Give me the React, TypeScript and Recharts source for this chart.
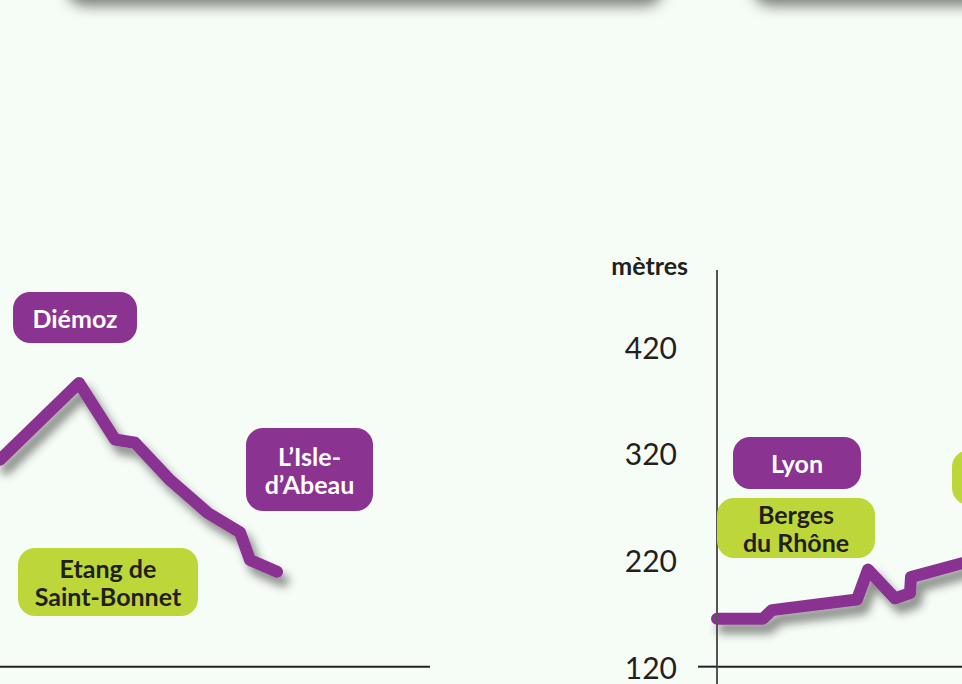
import React from 'react';
import { LineChart, Line, XAxis, YAxis, ReferenceLine } from 'recharts';

// Left profile (distance in arbitrary km units, altitude in metres)
const leftDistance = [0, 7.9, 11.5, 13.5, 17, 20.8, 24, 25, 27.7];
const leftAltitude = [314, 386, 333, 330, 295, 264, 246, 220, 209];

// Right profile
const rightDistance = [0, 4.6, 5.5, 14, 15.1, 17.8, 19.3, 19.4, 24.5];
const rightAltitude = [165, 165, 173, 183, 211, 184, 189, 204, 217];

const yTicks = [120, 220, 320, 420];
const yDomain = [100, 492];
const baseValue = 120;
const axisUnit = 'mètres';

const leftData = leftDistance.map((d, i) => ({ d, alt: leftAltitude[i] }));
const rightData = rightDistance.map((d, i) => ({ d, alt: rightAltitude[i] }));

const BG = '#f6fdf6';
const PURPLE = '#8a3391';
const GREEN = '#bdd63a';
const DARK = '#231f20';
const FONT = 'Lato, "Open Sans", sans-serif';

const ShadowDefs = ({ id }: { id: string }) => (
  <defs>
    <filter id={id} x="-20%" y="-20%" width="150%" height="170%">
      <feDropShadow dx="6" dy="9" stdDeviation="5" floodColor="#000" floodOpacity="0.45" />
    </filter>
  </defs>
);

const YTick = (props: any) => {
  const { x, y, payload } = props;
  return (
    <g>
      {payload.value === baseValue && (
        <line x1={x - 19} x2={x} y1={y} y2={y} stroke="#222" strokeWidth={2} />
      )}
      <text
        x={x - 40}
        y={y}
        textAnchor="end"
        dominantBaseline="central"
        fill={DARK}
        fontFamily={FONT}
        fontSize={30}
      >
        {payload.value}
      </text>
    </g>
  );
};

const boxBase: React.CSSProperties = {
  position: 'absolute',
  borderRadius: 17,
  display: 'flex',
  alignItems: 'center',
  justifyContent: 'center',
  textAlign: 'center',
  fontFamily: FONT,
  fontWeight: 700,
  fontSize: 25,
  lineHeight: '28px',
  boxSizing: 'border-box',
};

const Box = ({ left, top, width, height, green, children }: any) => (
  <div
    style={{
      ...boxBase,
      left,
      top,
      width,
      height,
      background: green ? GREEN : PURPLE,
      color: green ? DARK : '#ffffff',
    }}
  >
    {children}
  </div>
);

export default function App() {
  return (
    <div
      style={{
        position: 'fixed',
        left: 0,
        top: 0,
        width: 962,
        height: 684,
        overflow: 'hidden',
        background: BG,
      }}
    >
      {/* top decorative panels (cropped) */}
      <div
        style={{
          position: 'absolute',
          left: 64,
          top: -120,
          width: 598,
          height: 120,
          background: BG,
          borderRadius: 20,
          boxShadow: '2px 6px 14px rgba(0,0,0,0.5)',
        }}
      />
      <div
        style={{
          position: 'absolute',
          left: 750,
          top: -120,
          width: 400,
          height: 120,
          background: BG,
          borderRadius: 20,
          boxShadow: '2px 6px 14px rgba(0,0,0,0.5)',
        }}
      />

      {/* left chart */}
      <div style={{ position: 'absolute', left: 0, top: 0 }}>
        <LineChart
          width={430}
          height={700}
          data={leftData}
          margin={{ top: 270, right: 0, left: 0, bottom: 12 }}
        >
          <ShadowDefs id="shL" />
          <XAxis dataKey="d" type="number" domain={[0, 43]} hide />
          <YAxis type="number" domain={yDomain} hide allowDataOverflow />
          <ReferenceLine y={baseValue} stroke="#222" strokeWidth={2} />
          <Line
            dataKey="alt"
            stroke={PURPLE}
            strokeWidth={12}
            strokeLinecap="round"
            strokeLinejoin="round"
            dot={false}
            activeDot={false}
            isAnimationActive={false}
            filter="url(#shL)"
          />
        </LineChart>
      </div>

      {/* right chart */}
      <div style={{ position: 'absolute', left: 580, top: 0 }}>
        <LineChart
          width={400}
          height={700}
          data={rightData}
          margin={{ top: 270, right: 0, left: 0, bottom: 12 }}
        >
          <ShadowDefs id="shR" />
          <XAxis dataKey="d" type="number" domain={[0, 26.3]} hide />
          <YAxis
            type="number"
            domain={yDomain}
            ticks={yTicks}
            width={137}
            tickSize={0}
            tickMargin={0}
            tickLine={false}
            axisLine={{ stroke: '#555', strokeWidth: 2 }}
            tick={<YTick />}
            allowDataOverflow
            interval={0}
          />
          <ReferenceLine y={baseValue} stroke="#222" strokeWidth={2} />
          <Line
            dataKey="alt"
            stroke={PURPLE}
            strokeWidth={12}
            strokeLinecap="round"
            strokeLinejoin="round"
            dot={false}
            activeDot={false}
            isAnimationActive={false}
            filter="url(#shR)"
          />
        </LineChart>
      </div>

      {/* axis unit */}
      <div
        style={{
          position: 'absolute',
          left: 600,
          top: 250,
          width: 88,
          textAlign: 'right',
          fontFamily: FONT,
          fontWeight: 700,
          fontSize: 25,
          lineHeight: '30px',
          color: DARK,
        }}
      >
        {axisUnit}
      </div>

      {/* place labels */}
      <Box left={13} top={292} width={124} height={51}>Diémoz</Box>
      <Box left={246} top={428} width={127} height={83}>
        L’Isle-
        <br />
        d’Abeau
      </Box>
      <Box left={18} top={548} width={180} height={68} green>
        Etang de
        <br />
        Saint-Bonnet
      </Box>
      <Box left={733} top={437} width={128} height={52}>Lyon</Box>
      <Box left={717} top={498} width={158} height={60} green>
        Berges
        <br />
        du Rhône
      </Box>
      <Box left={952} top={450} width={150} height={55} green>{''}</Box>
    </div>
  );
}
